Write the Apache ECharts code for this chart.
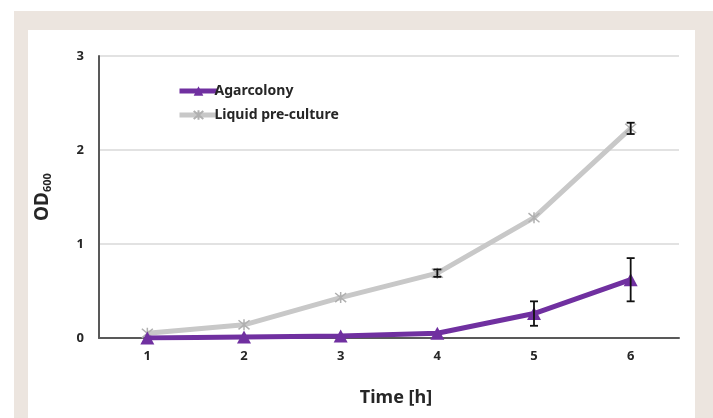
<!DOCTYPE html>
<html>
<head>
<meta charset="utf-8">
<script src="https://cdn.jsdelivr.net/npm/echarts@6/dist/echarts.min.js"></script>
<style>html,body{margin:0;padding:0;background:#fff}#c{width:713px;height:418px}</style>
</head>
<body>
<div id="c"></div>
<script>
var categories = ['1', '2', '3', '4', '5', '6'];
var agarValues = [0.00, 0.01, 0.02, 0.05, 0.26, 0.62];
var agarErrors = [0, 0, 0, 0, 0.13, 0.23];
var liquidValues = [0.05, 0.14, 0.43, 0.69, 1.28, 2.23];
var liquidErrors = [0, 0, 0, 0.04, 0, 0.06];
var yTicks = [0, 1, 2, 3];

var chart = echarts.init(document.getElementById('c'));
var font = 'Noto Sans';

function errSeries(values, errors, z) {
  var d = values.map(function (v, i) { return [i, v - errors[i], v + errors[i]]; })
    .filter(function (r, i) { return errors[i] > 0.015; });
  return {
    type: 'custom',
    z: z,
    silent: true,
    renderItem: function (params, api) {
      var lo = api.coord([api.value(0), api.value(1)]);
      var hi = api.coord([api.value(0), api.value(2)]);
      var w = 4;
      var st = { stroke: '#111', lineWidth: 1.8 };
      return {
        type: 'group',
        children: [
          { type: 'line', shape: { x1: lo[0], y1: lo[1], x2: hi[0], y2: hi[1] }, style: st },
          { type: 'line', shape: { x1: lo[0] - w, y1: lo[1], x2: lo[0] + w, y2: lo[1] }, style: st },
          { type: 'line', shape: { x1: hi[0] - w, y1: hi[1], x2: hi[0] + w, y2: hi[1] }, style: st }
        ]
      };
    },
    encode: { x: 0, y: [1, 2] },
    data: d
  };
}

var option = {
  animation: false,
  graphic: [
    { type: 'rect', z: -10, shape: { x: 14, y: 11, width: 699, height: 407 }, style: { fill: '#ece5df' } },
    { type: 'rect', z: -9, shape: { x: 28, y: 30, width: 667, height: 388 }, style: { fill: '#ffffff' } }
  ],
  grid: { left: 99, right: 34, top: 56, bottom: 80 },
  legend: {
    orient: 'vertical',
    left: 172,
    top: 79,
    itemWidth: 38,
    itemHeight: 12,
    itemGap: 10,
    lineStyle: { width: 5 },
    textStyle: { fontFamily: font, fontWeight: 'bold', fontSize: 14, color: '#262626', padding: [0, 0, 0, -8] },
    data: ['Agarcolony', 'Liquid pre-culture']
  },
  xAxis: {
    type: 'category',
    data: categories,
    boundaryGap: true,
    axisLine: { lineStyle: { color: '#595959', width: 2 } },
    axisTick: { show: false },
    axisLabel: { fontFamily: font, fontSize: 13, fontWeight: 'bold', color: '#262626', margin: 12 },
    name: 'Time [h]',
    nameLocation: 'middle',
    nameGap: 51,
    nameTextStyle: { fontFamily: font, fontSize: 18, fontWeight: 'bold', color: '#262626', padding: [0, 0, 0, 14] }
  },
  yAxis: {
    type: 'value',
    min: yTicks[0],
    max: yTicks[yTicks.length - 1],
    interval: 1,
    axisLine: { show: true, lineStyle: { color: '#595959', width: 2 } },
    axisTick: { show: false },
    splitLine: { lineStyle: { color: '#d9d9d9', width: 1.5 } },
    axisLabel: { fontFamily: font, fontSize: 13, fontWeight: 'bold', color: '#262626', margin: 15 },
    name: '{a|OD}{b|600}',
    nameLocation: 'middle',
    nameGap: 46,
    nameRotate: 90,
    nameTextStyle: {
      rich: {
        a: { fontFamily: font, fontSize: 19, fontWeight: 'bold', color: '#262626' },
        b: { fontFamily: font, fontSize: 11, fontWeight: 'bold', color: '#262626', verticalAlign: 'bottom', padding: [10, 0, 0, 0] }
      }
    }
  },
  series: [
    {
      name: 'Liquid pre-culture',
      type: 'line',
      data: liquidValues,
      z: 3,
      lineStyle: { color: '#c8c8c8', width: 5 },
      itemStyle: { color: 'rgba(0,0,0,0)', borderColor: '#b0b0b0', borderWidth: 1.5 },
      symbol: 'path://M0,0L10,10M10,0L0,10M5,-1L5,11',
      symbolSize: 11,
      showSymbol: true
    },
    {
      name: 'Agarcolony',
      type: 'line',
      data: agarValues,
      z: 4,
      lineStyle: { color: '#7030a0', width: 5 },
      itemStyle: { color: '#7030a0' },
      symbol: 'triangle',
      symbolSize: [14, 13],
      showSymbol: true
    },
    errSeries(liquidValues, liquidErrors, 5),
    errSeries(agarValues, agarErrors, 6)
  ]
};
chart.setOption(option);
</script>
</body>
</html>
